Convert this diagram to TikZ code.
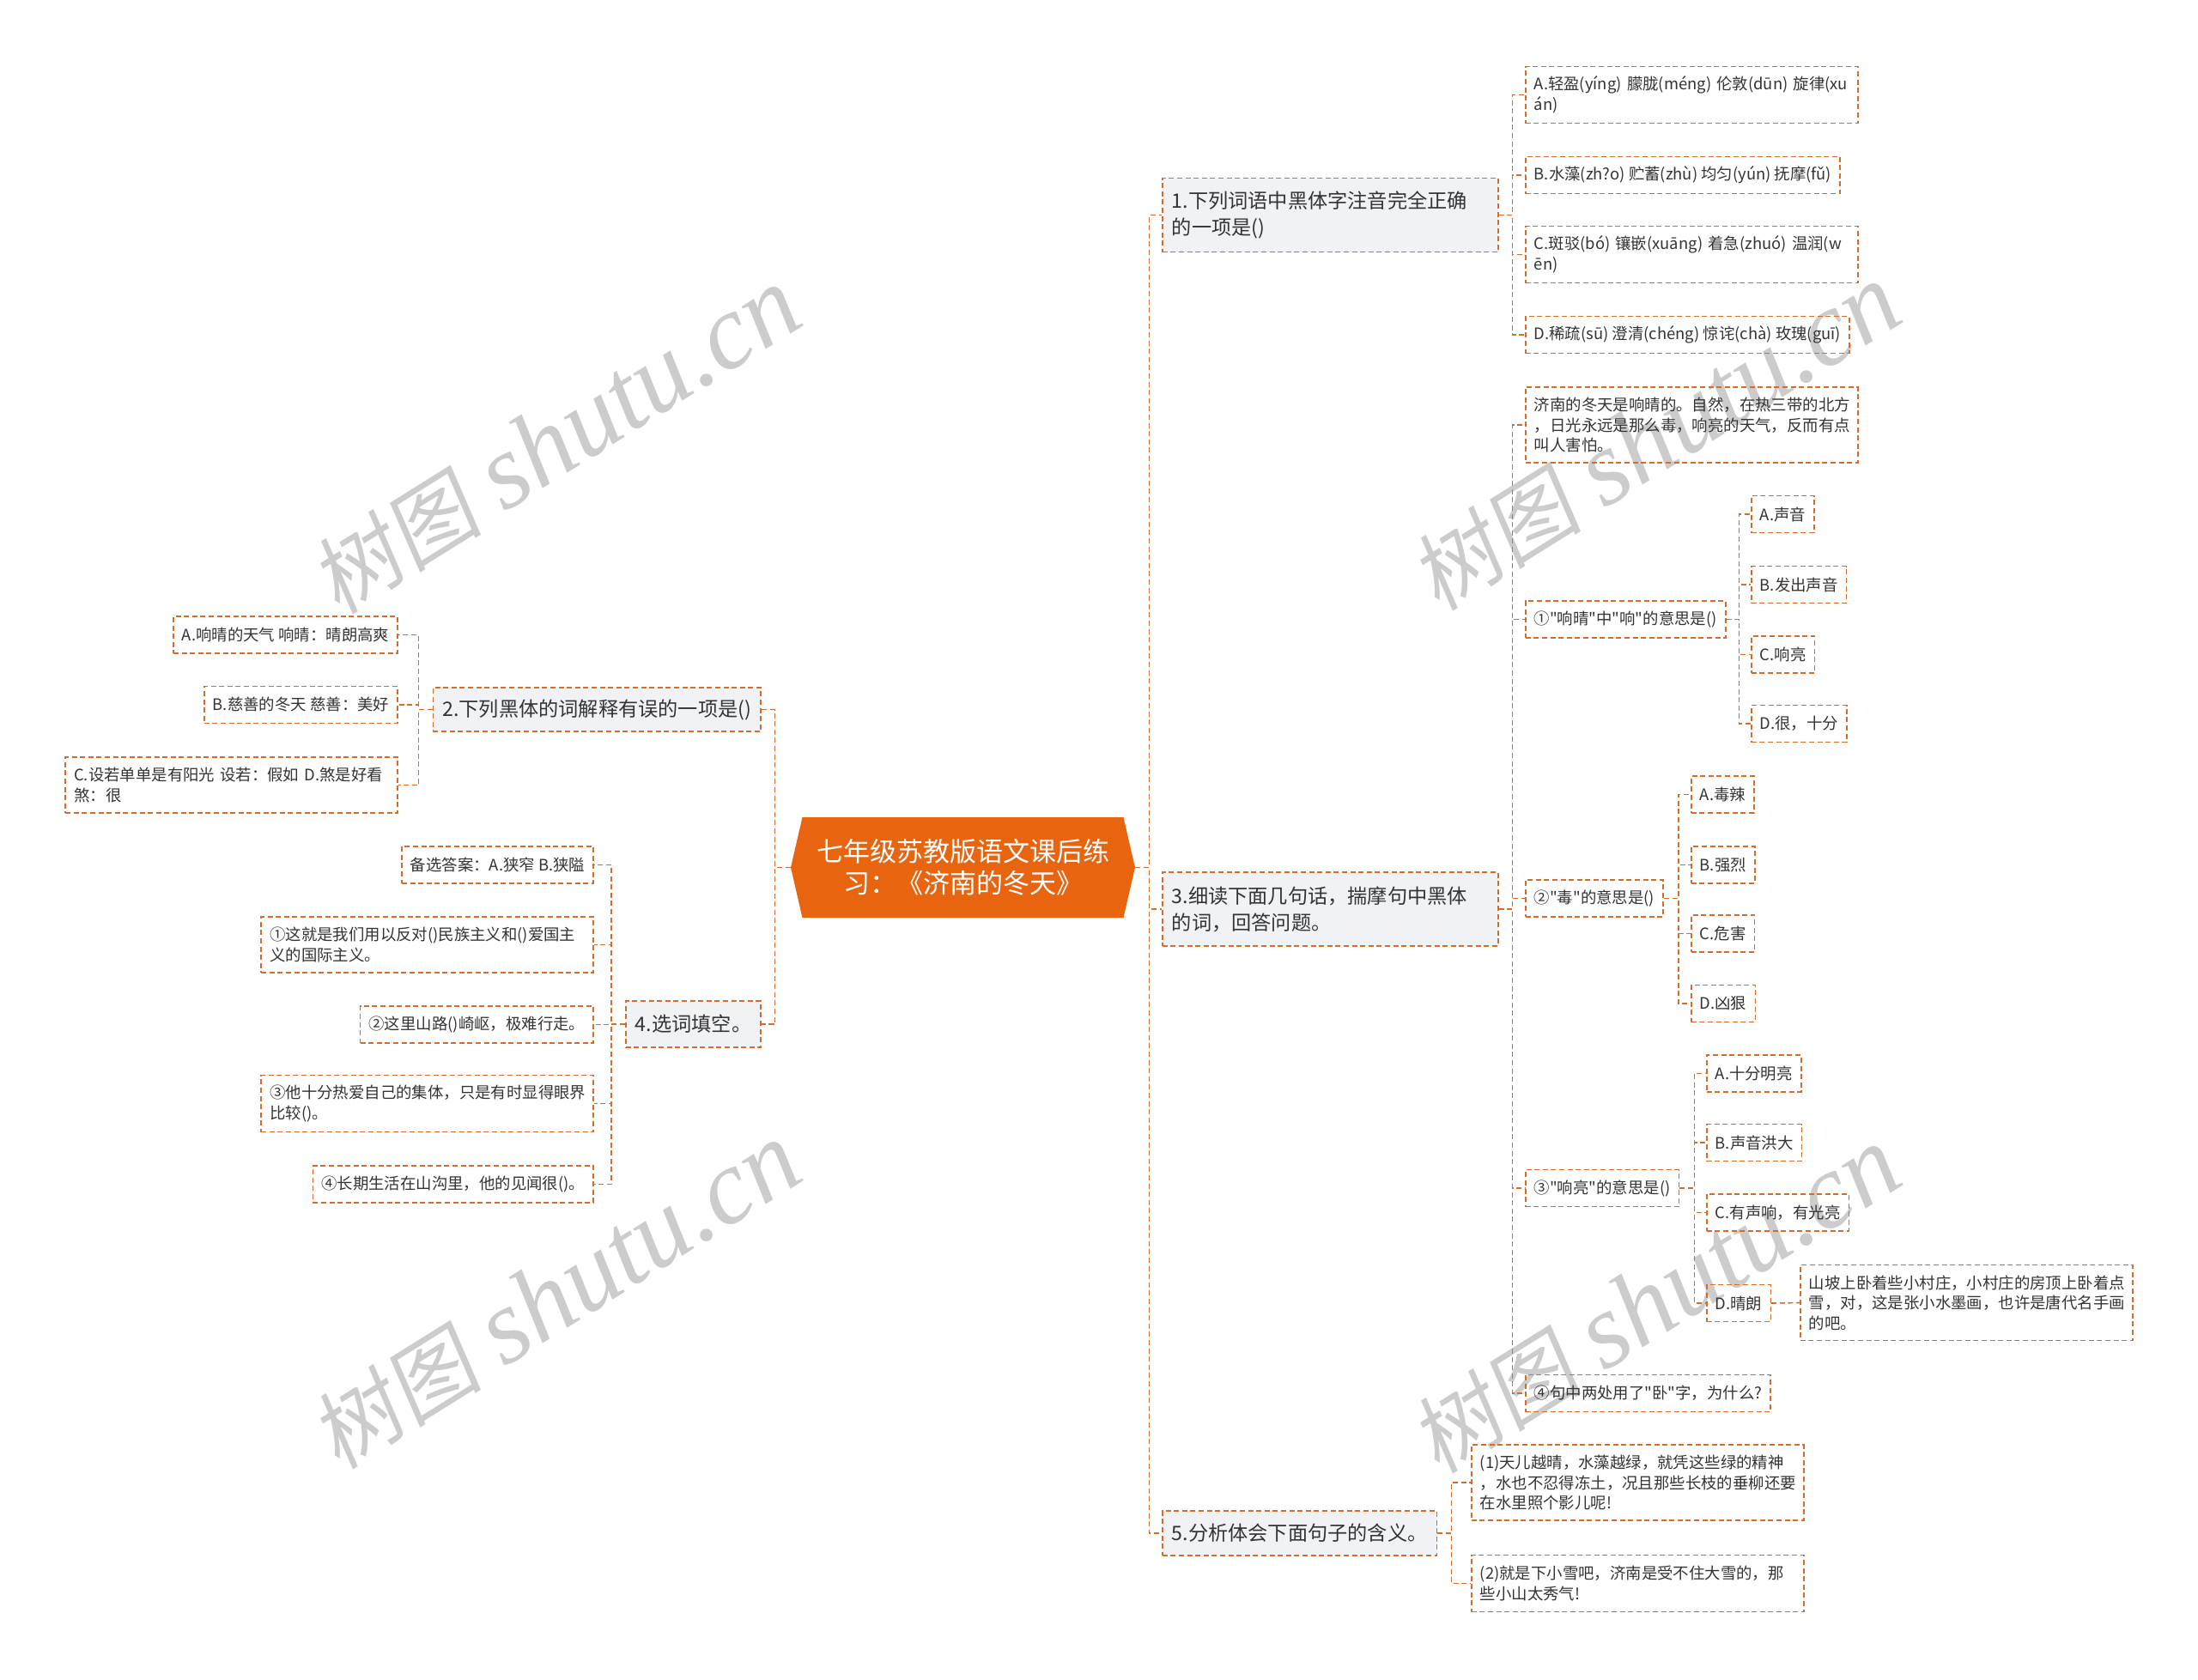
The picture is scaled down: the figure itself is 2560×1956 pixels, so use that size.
\documentclass[tikz,border=0pt]{standalone}
\usepackage{fontspec}
\setmainfont{Noto Sans CJK SC}
\newfontfamily\cn{Noto Sans CJK SC}
\newfontfamily\wmlatin{Liberation Serif}
\newfontfamily\wmcjk[FakeSlant=0.15]{Noto Sans CJK SC}
\usetikzlibrary{shapes.symbols}
\definecolor{lineor}{RGB}{214,108,42}
\definecolor{titlefill}{RGB}{232,100,15}
\definecolor{qfill}{RGB}{240,242,245}
\definecolor{txt}{RGB}{51,51,51}
\tikzset{
  link/.style={draw=lineor, line width=0.8pt, dash pattern=on 3pt off 1.8pt},
  titlebox/.style={signal, signal to=east and west, signal pointer angle=154,
    fill=titlefill, text=white, font=\cn\fontsize{15.5}{18.5}\selectfont,
    align=center, minimum width=200.5pt, minimum height=58.5pt, inner sep=0pt},
  quest/.style={link, fill=qfill, text=txt, font=\cn\fontsize{11.6}{15.5}\selectfont,
    align=left, inner xsep=5.5pt, inner ysep=4pt, minimum height=25.5pt},
  leaf/.style={link, text=txt, font=\cn\fontsize{9.2}{11.8}\selectfont,
    align=left, inner xsep=5pt, inner ysep=3pt, minimum height=21.5pt},
  wrapped/.style={text width=183.5pt},
  wmark/.style={text=black!20, rotate=32}
}
\newcommand\wmtext{{\wmcjk\fontsize{50}{56}\selectfont 树图}\hspace{14pt}{\wmlatin\itshape\fontsize{62}{70}\selectfont shutu.cn}}
\begin{document}
\begin{tikzpicture}[x=0.5pt,y=-0.5pt]
\useasboundingbox (0,0) rectangle (2560,1956);
\node[wmark] (wm1) at (647,514) {\wmtext};
\node[wmark] (wm2) at (1928,510) {\wmtext};
\node[wmark] (wm3) at (647,1510) {\wmtext};
\node[wmark] (wm4) at (1928,1515) {\wmtext};

\node[titlebox] (title) at (1121.5,1010.5) {七年级苏教版语文课后练\\习：《济南的冬天》};

\node[quest, anchor=west, text width=184.5pt, minimum height=43pt] (q1) at (1353,250.5) {1.下列词语中黑体字注音完全正确\\的一项是()};
\node[quest, anchor=east] (q2) at (887,826.5) {2.下列黑体的词解释有误的一项是()};
\node[quest, anchor=west, text width=184.5pt, minimum height=43pt] (q3) at (1353,1059) {3.细读下面几句话，揣摩句中黑体\\的词，回答问题。};
\node[quest, anchor=east, minimum height=27pt] (q4) at (887,1193) {4.选词填空。};
\node[quest, anchor=west, minimum height=26pt] (q5) at (1353,1786) {5.分析体会下面句子的含义。};

\node[leaf, wrapped, anchor=west, minimum height=33pt] (q1a) at (1776,110.5) {A.轻盈(yíng) 朦胧(méng) 伦敦(dūn) 旋律(xu\\án)};
\node[leaf, anchor=west] (q1b) at (1776,204) {B.水藻(zh?o) 贮蓄(zhù) 均匀(yún) 抚摩(fǔ)};
\node[leaf, wrapped, anchor=west, minimum height=33pt] (q1c) at (1776,296.5) {C.斑驳(bó) 镶嵌(xuāng) 着急(zhuó) 温润(w\\ēn)};
\node[leaf, anchor=west] (q1d) at (1776,390) {D.稀疏(sū) 澄清(chéng) 惊诧(chà) 玫瑰(guī)};

\node[leaf, anchor=east] (q2a) at (464,739.5) {A.响晴的天气 响晴：晴朗高爽};
\node[leaf, anchor=east] (q2b) at (464,821) {B.慈善的冬天 慈善：美好};
\node[leaf, wrapped, anchor=east, minimum height=32.5pt] (q2c) at (464,914.5) {C.设若单单是有阳光 设若：假如 D.煞是好看\\煞：很};

\node[leaf, wrapped, anchor=west, minimum height=44pt] (q3a) at (1776,495) {济南的冬天是响晴的。自然，在热三带的北方\\，日光永远是那么毒，响亮的天气，反而有点\\叫人害怕。};
\node[leaf, anchor=west] (q3b) at (1776,721.5) {①"响晴"中"响"的意思是()};
\node[leaf, anchor=west] (q3c) at (1776,1046.5) {②"毒"的意思是()};
\node[leaf, anchor=west] (q3d) at (1776,1384) {③"响亮"的意思是()};
\node[leaf, anchor=west] (q3e) at (1776,1623) {④句中两处用了"卧"字，为什么?};

\node[leaf, anchor=west] (q3ba) at (2039,599) {A.声音};
\node[leaf, anchor=west] (q3bb) at (2039,681) {B.发出声音};
\node[leaf, anchor=west] (q3bc) at (2039,762.5) {C.响亮};
\node[leaf, anchor=west] (q3bd) at (2039,843) {D.很，十分};

\node[leaf, anchor=west] (q3ca) at (1969,925.5) {A.毒辣};
\node[leaf, anchor=west] (q3cb) at (1969,1007.5) {B.强烈};
\node[leaf, anchor=west] (q3cc) at (1969,1087.5) {C.危害};
\node[leaf, anchor=west] (q3cd) at (1969,1169) {D.凶狠};

\node[leaf, anchor=west] (q3da) at (1987,1250.5) {A.十分明亮};
\node[leaf, anchor=west] (q3db) at (1987,1331) {B.声音洪大};
\node[leaf, anchor=west] (q3dc) at (1987,1412.5) {C.有声响，有光亮};
\node[leaf, anchor=west] (q3dd) at (1987,1518) {D.晴朗};
\node[leaf, wrapped, anchor=west, minimum height=44pt] (q3dd1) at (2096,1517.5) {山坡上卧着些小村庄，小村庄的房顶上卧着点\\雪，对，这是张小水墨画，也许是唐代名手画\\的吧。};

\node[leaf, anchor=east] (q4a) at (692,1007.5) {备选答案：A.狭窄 B.狭隘};
\node[leaf, wrapped, anchor=east, minimum height=32.5pt] (q4b) at (692,1100.5) {①这就是我们用以反对()民族主义和()爱国主\\义的国际主义。};
\node[leaf, anchor=east] (q4c) at (692,1193.5) {②这里山路()崎岖，极难行走。};
\node[leaf, wrapped, anchor=east, minimum height=33pt] (q4d) at (692,1285.5) {③他十分热爱自己的集体，只是有时显得眼界\\比较()。};
\node[leaf, anchor=east] (q4e) at (692,1379.5) {④长期生活在山沟里，他的见闻很()。};

\node[leaf, wrapped, anchor=west, minimum height=44pt] (q5a) at (1713,1727) {(1)天儿越晴，水藻越绿，就凭这些绿的精神\\，水也不忍得冻土，况且那些长枝的垂柳还要\\在水里照个影儿呢!};
\node[leaf, wrapped, anchor=west, minimum height=33pt] (q5b) at (1713,1844.5) {(2)就是下小雪吧，济南是受不住大雪的，那\\些小山太秀气!};

\draw[link] (title.east) -- ++(16,0) |- (q1.west);
\draw[link] (title.east) -- ++(16,0) |- (q3.west);
\draw[link] (title.east) -- ++(16,0) |- (q5.west);
\draw[link] (title.west) -- ++(-18,0) |- (q2.east);
\draw[link] (title.west) -- ++(-18,0) |- (q4.east);

\draw[link] (q1.east) -- ++(16,0) |- (q1a.west);
\draw[link] (q1.east) -- ++(16,0) |- (q1b.west);
\draw[link] (q1.east) -- ++(16,0) |- (q1c.west);
\draw[link] (q1.east) -- ++(16,0) |- (q1d.west);

\draw[link] (q2.west) -- ++(-16,0) |- (q2a.east);
\draw[link] (q2.west) -- ++(-16,0) |- (q2b.east);
\draw[link] (q2.west) -- ++(-16,0) |- (q2c.east);

\draw[link] (q3.east) -- ++(16,0) |- (q3a.west);
\draw[link] (q3.east) -- ++(16,0) |- (q3b.west);
\draw[link] (q3.east) -- ++(16,0) |- (q3c.west);
\draw[link] (q3.east) -- ++(16,0) |- (q3d.west);
\draw[link] (q3.east) -- ++(16,0) |- (q3e.west);

\draw[link] (q3b.east) -- ++(15,0) |- (q3ba.west);
\draw[link] (q3b.east) -- ++(15,0) |- (q3bb.west);
\draw[link] (q3b.east) -- ++(15,0) |- (q3bc.west);
\draw[link] (q3b.east) -- ++(15,0) |- (q3bd.west);

\draw[link] (q3c.east) -- ++(17,0) |- (q3ca.west);
\draw[link] (q3c.east) -- ++(17,0) |- (q3cb.west);
\draw[link] (q3c.east) -- ++(17,0) |- (q3cc.west);
\draw[link] (q3c.east) -- ++(17,0) |- (q3cd.west);

\draw[link] (q3d.east) -- ++(17,0) |- (q3da.west);
\draw[link] (q3d.east) -- ++(17,0) |- (q3db.west);
\draw[link] (q3d.east) -- ++(17,0) |- (q3dc.west);
\draw[link] (q3d.east) -- ++(17,0) |- (q3dd.west);
\draw[link] (q3dd.east) -- (q3dd1.west);

\draw[link] (q4.west) -- ++(-16,0) |- (q4a.east);
\draw[link] (q4.west) -- ++(-16,0) |- (q4b.east);
\draw[link] (q4.west) -- ++(-16,0) |- (q4c.east);
\draw[link] (q4.west) -- ++(-16,0) |- (q4d.east);
\draw[link] (q4.west) -- ++(-16,0) |- (q4e.east);

\draw[link] (q5.east) -- ++(16,0) |- (q5a.west);
\draw[link] (q5.east) -- ++(16,0) |- (q5b.west);
\end{tikzpicture}
\end{document}
